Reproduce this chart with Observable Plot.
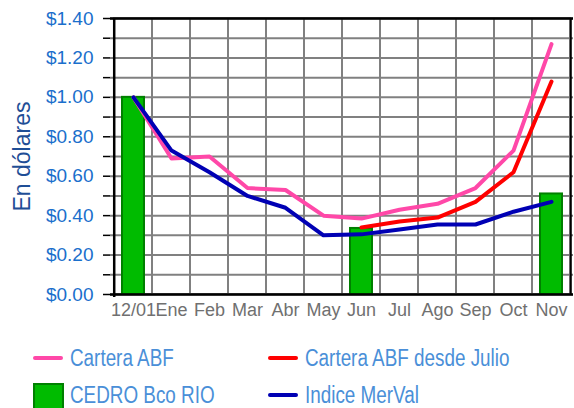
<!DOCTYPE html>
<html><head><meta charset="utf-8">
<script src="https://cdn.jsdelivr.net/npm/d3@7"></script>
<script src="https://cdn.jsdelivr.net/npm/@observablehq/plot@0.6"></script>
<style>
body{margin:0;background:#fff;font-family:"Liberation Sans",Arial,sans-serif}
#wrap{position:relative;width:574px;height:408px;overflow:hidden}
#legend{position:absolute;left:0;top:330px;width:574px;height:78px}
.sw{position:absolute;height:4px;width:30px;border-radius:2px}
.box{position:absolute;width:27px;height:25px;background:#00BB00;border:2px solid #008000}
.lt{position:absolute;font-family:"Liberation Sans",Arial,sans-serif;font-size:23px;color:#4A8FD8;line-height:20px;height:20px;white-space:nowrap;transform:scaleX(0.82);transform-origin:0 50%}
</style></head><body>
<div id="wrap"><div id="chart"></div><div id="legend"></div></div>
<script>
const months = ["12/01","Ene","Feb","Mar","Abr","May","Jun","Jul","Ago","Sep","Oct","Nov"];
const carteraABF = [1.00,0.69,0.70,0.54,0.53,0.40,0.385,0.43,0.46,0.54,0.73,1.27];
const carteraDesdeJulio = [null,null,null,null,null,null,0.34,0.37,0.39,0.47,0.62,1.08];
const indiceMerval = [1.00,0.73,0.62,0.50,0.44,0.30,0.305,0.33,0.355,0.355,0.42,0.47];
const cedroBcoRio = [1.00,null,null,null,null,null,0.335,null,null,null,null,0.51];
const yGridTicks = [0,0.1,0.2,0.3,0.4,0.5,0.6,0.7,0.8,0.9,1.0,1.1,1.2,1.3,1.4];
const yLabelTicks = [0,0.2,0.4,0.6,0.8,1.0,1.2,1.4];
const yTitle = "En dólares";
const legendNames = ["Cartera ABF","Cartera ABF desde Julio","CEDRO Bco RIO","Indice MerVal"];

const rows = vals => months.map((m,i)=>({month:m, value:vals[i]})).filter(d=>d.value!=null);
const bw = (574-110-1)/12;
const fmt = d3.format("$.2f");
const isLabel = d => yLabelTicks.some(t => Math.abs(t-d)<1e-9);

const plot = Plot.plot({
  width:574, height:330,
  marginLeft:110, marginRight:1, marginTop:18, marginBottom:36,
  x:{type:"band", domain:months, padding:0, label:null, axis:null},
  y:{domain:[0,1.4], label:null, axis:null},
  style:{background:"transparent", overflow:"visible", fontFamily:"'Liberation Sans', Arial, sans-serif"},
  marks:[
    Plot.ruleY(yGridTicks,{stroke:"#808080", strokeWidth:2}),
    Plot.barY(months,{x:d=>d, y1:0, y2:1.4, fill:"none", stroke:"#808080", strokeWidth:2}),
    Plot.barY(rows(cedroBcoRio),{x:"month", y:"value", fill:"#00BB00", stroke:"#008000", strokeWidth:2, insetLeft:8, insetRight:8}),
    Plot.line(rows(carteraABF),{x:"month", y:"value", stroke:"#FF48A8", strokeWidth:4}),
    Plot.line(rows(carteraDesdeJulio),{x:"month", y:"value", stroke:"#FF0000", strokeWidth:4}),
    Plot.line(rows(indiceMerval),{x:"month", y:"value", stroke:"#0000B4", strokeWidth:4}),
    Plot.ruleY([0,1.4],{stroke:"#000", strokeWidth:2.5}),
    Plot.ruleX([months[0]],{dx:-bw/2, y1:-0.015, y2:1.4, stroke:"#000", strokeWidth:2.5}),
    Plot.ruleX([months[11]],{dx:bw/2, y1:0, y2:1.4, stroke:"#000", strokeWidth:2}),
    Plot.axisY(yGridTicks,{tickSize:7, tickPadding:10, stroke:"#000", strokeWidth:1.5,
      tickFormat:d=>isLabel(d)?fmt(d):"", fontSize:19, fill:"#1A6FCC", letterSpacing:"0.8px"}),
    Plot.axisX({tickSize:0, tickPadding:9, fontSize:18, fill:"#707070"}),
    Plot.text([yTitle],{frameAnchor:"left", textAnchor:"middle", rotate:-90, dx:-88, fontSize:23, fill:"#1F4E96"})
  ]
});
document.getElementById("chart").appendChild(plot);

const lg = document.getElementById("legend");
const items = [
  {type:"line", color:"#FF48A8", x:33, y:28, name:legendNames[0]},
  {type:"line", color:"#FF0000", x:268, y:28, name:legendNames[1]},
  {type:"box", color:"#00BB00", x:33, y:65, name:legendNames[2]},
  {type:"line", color:"#0000B4", x:268, y:65, name:legendNames[3]}
];
items.forEach(it=>{
  let s = document.createElement("div");
  if(it.type==="line"){ s.className="sw"; s.style.left=it.x+"px"; s.style.top=(it.y-2)+"px"; s.style.background=it.color; }
  else { s.className="box"; s.style.left=it.x+"px"; s.style.top=(it.y-12)+"px"; }
  lg.appendChild(s);
  let t = document.createElement("div");
  t.className="lt"; t.textContent=it.name;
  t.style.left=(it.x+37)+"px";
  t.style.top=(it.y-10)+"px";
  lg.appendChild(t);
});
</script>
</body></html>
